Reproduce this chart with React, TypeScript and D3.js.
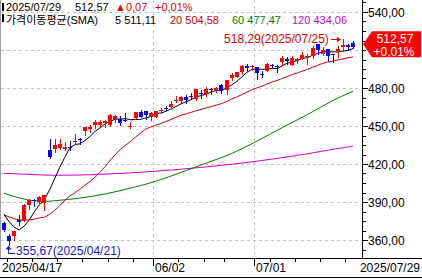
import React from "react";
import * as d3 from "d3";

// ---- data ----
const dates = [
  "04/17","04/21","04/22","04/23","04/24","04/25","04/28","04/29","04/30",
  "05/01","05/02","05/05","05/06","05/07","05/08","05/09","05/12","05/13","05/14","05/15","05/16",
  "05/19","05/20","05/21","05/22","05/23","05/27","05/28","05/29","05/30",
  "06/02","06/03","06/04","06/05","06/06","06/09","06/10","06/11","06/12","06/13",
  "06/16","06/17","06/18","06/20","06/23","06/24","06/25","06/26","06/27","06/30",
  "07/01","07/02","07/03","07/07","07/08","07/09","07/10","07/11","07/14","07/15",
  "07/16","07/17","07/18","07/21","07/22","07/23","07/24","07/25","07/28","07/29",
];
const opens = [
  373.3,362.8,363.4,376.0,375.0,387.9,391.8,390.2,389.0,
  431.1,431.7,432.9,432.2,433.8,437.9,440.0,445.9,447.8,450.8,450.8,452.1,
  450.7,455.6,455.6,454.95,449.98,456.5,461.2,461.6,457.4,
  457.1,461.5,464.0,465.0,470.1,469.7,473.0,473.3,471.0,476.0,
  475.4,478.9,478.1,482.0,478.2,488.0,489.0,493.0,497.6,497.0,
  496.5,491.4,493.8,497.9,497.2,500.3,503.0,498.5,501.5,503.0,
  505.0,505.2,514.5,506.7,510.9,506.7,508.8,512.0,514.0,515.2,
];
const highs = [
  374.4,364.5,367.5,379.4,388.1,392.3,392.1,395.0,395.6,
  439.6,439.4,439.5,437.7,438.1,443.7,440.7,449.4,450.7,454.4,455.0,454.4,
  459.6,458.8,457.8,460.4,453.3,460.9,462.5,461.7,461.0,
  462.1,464.1,465.7,469.7,473.3,473.4,474.4,475.8,478.9,478.6,
  480.7,480.1,481.0,483.5,486.2,491.9,493.0,498.0,499.2,498.0,
  496.5,493.5,500.1,498.8,498.0,505.0,504.4,505.0,503.9,508.3,
  507.0,513.4,515.0,512.1,511.0,506.8,513.0,518.29,515.0,517.0,
];
const lows = [
  366.9,355.67,360.3,371.6,375.0,384.3,386.8,389.0,384.0,
  424.7,429.2,432.1,431.2,431.1,435.4,435.9,442.9,445.4,448.7,448.9,449.6,
  450.3,453.2,451.0,454.0,448.1,456.0,456.9,455.3,455.0,
  456.9,460.0,463.0,464.0,468.8,468.6,468.4,471.1,470.5,472.4,
  474.0,475.6,476.9,476.0,475.0,486.5,488.6,491.4,493.5,494.0,
  487.0,488.3,493.4,495.5,492.5,498.0,498.9,497.8,499.5,502.8,
  499.0,504.0,507.0,506.0,501.0,500.7,504.5,509.5,510.0,511.2,
];
const closes = [
  367.78,359.12,366.82,374.39,387.30,391.85,391.16,394.04,395.26,
  425.40,435.28,436.17,433.31,433.35,438.17,438.73,449.26,449.14,452.94,453.13,454.27,
  458.87,458.17,452.57,454.86,450.18,460.69,457.36,458.68,460.36,
  461.97,462.97,463.87,467.68,470.38,472.75,470.92,472.62,478.87,474.96,
  479.14,478.04,480.24,477.40,486.00,490.11,492.27,497.45,495.94,497.41,
  492.05,491.09,498.84,497.72,496.62,503.51,501.48,503.32,503.02,505.82,
  505.62,511.70,510.05,510.06,505.27,505.87,510.88,513.71,512.50,512.57,
];
const ma5 = [
  380.28,374.41,370.21,367.94,371.08,375.90,382.30,387.75,391.92,
  399.54,408.23,417.23,425.08,432.70,435.26,435.95,438.56,441.73,445.65,448.64,451.75,
  453.67,455.48,455.40,455.75,454.93,455.29,455.13,456.35,457.45,
  459.81,460.27,461.57,463.37,465.37,467.53,469.12,470.87,473.11,474.02,
  475.30,476.73,478.25,477.96,480.16,482.36,485.20,488.65,492.35,494.64,
  495.02,494.79,495.07,495.42,495.26,497.56,499.63,500.53,501.59,503.43,
  503.85,505.90,507.24,508.65,508.54,508.59,508.43,509.16,509.65,511.11,
];
const ma20 = [
  379.86,378.25,376.94,375.90,375.77,375.83,376.45,377.38,378.03,
  380.20,383.31,387.12,390.89,394.83,397.22,400.09,403.13,406.19,409.55,413.63,417.95,
  422.94,427.51,431.42,434.80,437.71,441.19,444.36,447.53,449.27,
  450.61,451.95,453.48,455.19,456.80,458.51,459.59,460.76,462.06,463.15,
  464.39,465.35,466.46,467.70,469.25,471.25,472.83,474.83,476.70,478.55,
  480.05,481.46,483.21,484.71,486.02,487.56,489.09,490.62,491.83,493.37,
  494.70,496.38,497.87,499.50,500.47,501.26,502.19,503.00,503.83,504.59,
];
const ma60Dates = ["04/17","04/21","04/22","04/23","04/24","04/25","04/28","04/29","04/30","05/01","05/02","05/09","05/16","05/23","06/02","06/09","06/16","06/24","07/01","07/09","07/16","07/23","07/29"];
const ma60Values = [397.04,395.58,394.29,393.29,392.29,391.45,391.05,390.70,390.44,390.66,391.02,393.05,396.37,400.91,406.36,413.38,420.74,428.26,437.99,448.72,459.02,470.07,477.47];
const ma120Dates = ["04/17","04/25","05/02","05/09","05/16","05/23","06/02","06/09","06/16","06/24","07/01","07/09","07/16","07/23","07/29"];
const ma120Values = [412.6,411.8,411.1,411.3,412.0,413.0,414.3,415.9,417.7,419.8,422.2,425.0,428.1,431.6,434.06];

const yLabelValues = [540, 480, 450, 420, 390, 360];
const yGridValues = [360, 390, 420, 450, 480, 510, 540];
const monthStarts = ["06/02", "07/01"];
const weekStarts = ["04/21","04/28","05/05","05/12","05/19","05/27","06/09","06/16","06/23","07/07","07/14","07/21","07/28"];
const xLabels = [
  { date: "04/17", text: "2025/04/17" },
  { date: "06/02", text: "06/02" },
  { date: "07/01", text: "07/01" },
  { date: "07/29", text: "2025/07/29" },
];
const legendDate = "2025/07/29";
const legendChange = 0.07;
const legendChangePct = 0.01;
const maLegend = [
  { period: 5, value: 511.11 },
  { period: 20, value: 504.58 },
  { period: 60, value: 477.47 },
  { period: 120, value: 434.06 },
];
const highNote = { date: "07/25", full: "2025/07/25", value: 518.29 };
const lowNote = { date: "04/21", full: "2025/04/21", value: 355.67 };

// ---- styling ----
const W = 422;
const H = 279;
const PLOT_R = 363;
const PLOT_B = 258;
const FONT = "'Liberation Sans', Arial, 'Noto Sans CJK KR', sans-serif";
const UP = "#ff0000";
const DOWN = "#0000ff";
const MA_COLORS = ["#000000", "#d00000", "#008000", "#d000d0"];
const LEGEND_X = [115, 170, 232, 292];

const fmt = (v: number) => d3.format(".2f")(v).replace(".", ",");

export default function App() {
  const x = d3.scaleBand<string>().domain(dates).range([1.47, 355.53]).padding(0);
  const bw = x.bandwidth();
  const cx = (d: string) => (x(d) as number) + bw / 2;
  const y = d3.scaleLinear().domain([360, 540]).range([240, 12]);

  const lineDense = d3
    .line<number>()
    .x((_, i) => cx(dates[i]))
    .y((v) => y(v));
  const lineSparse = (ds: string[], vs: number[]) =>
    d3
      .line<number>()
      .x((_, i) => cx(ds[i]))
      .y((v) => y(v))
      .curve(d3.curveMonotoneX)(vs) as string;

  const minorTicks = d3.range(352.5, 548, 7.5).filter((v) => y(v) > 1 && y(v) < PLOT_B - 1);

  const last = closes.length - 1;
  const tagY = y(closes[last]) - 2.5;

  const hx = cx(highNote.date);
  const hy = y(highNote.value);
  const lx = cx(lowNote.date);
  const ly = y(lowNote.value);

  return (
    <svg width={W} height={H} style={{ display: "block", position: "absolute", left: 0, top: 0 }} fontFamily={FONT}>
      <rect x={0} y={0} width={W} height={H} fill="#ffffff" />

      {/* grid */}
      <g shapeRendering="crispEdges" stroke="#c4c4c4" strokeDasharray="3,3">
        {yGridValues.map((v) => (
          <line key={v} x1={1} x2={PLOT_R} y1={Math.round(y(v)) + 0.5} y2={Math.round(y(v)) + 0.5} />
        ))}
        {monthStarts.map((d) => (
          <line key={d} x1={Math.round(x(d) as number) + 0.5} x2={Math.round(x(d) as number) + 0.5} y1={0} y2={PLOT_B} />
        ))}
      </g>

      {/* moving averages */}
      <g fill="none" strokeWidth={1}>
        <path d={lineSparse(ma120Dates, ma120Values)} stroke={MA_COLORS[3]} />
        <path d={lineSparse(ma60Dates, ma60Values)} stroke={MA_COLORS[2]} />
        <path d={lineDense(ma20) as string} stroke={MA_COLORS[1]} />
        <path d={lineDense(ma5) as string} stroke={MA_COLORS[0]} />
      </g>

      {/* candles */}
      <g shapeRendering="crispEdges">
        {dates.map((d, i) => {
          const o = opens[i];
          const c = closes[i];
          const col = c >= o ? UP : DOWN;
          const left = Math.round(cx(d) - 2);
          const top = Math.round(y(Math.max(o, c)));
          const bot = Math.round(y(Math.min(o, c)));
          const wx = left + 2.5;
          return (
            <g key={d}>
              <line x1={wx} x2={wx} y1={Math.round(y(highs[i]))} y2={Math.round(y(lows[i])) + 1} stroke={col} />
              <rect x={left} y={top} width={4} height={Math.max(1, bot - top)} fill={col} />
            </g>
          );
        })}
      </g>

      {/* high / low notes */}
      <g fontSize={12}>
        <text x={hx - 14} y={hy + 4} textAnchor="end" fill="#e00000">
          {`${fmt(highNote.value)}(${highNote.full})`}
        </text>
        <line x1={hx - 12} x2={hx - 3} y1={Math.round(hy) + 0.5} y2={Math.round(hy) + 0.5} stroke="#e00000" />
        <path d={`M${hx - 2},${Math.round(hy) + 0.5} l-4,-3 l0,6 Z`} fill="#e00000" />

        <path
          d={`M${lx + 6},${Math.round(ly) + 8.5} L${Math.round(lx) - 0.5},${Math.round(ly) + 8.5} L${Math.round(lx) - 0.5},${Math.round(ly) + 2}`}
          stroke="#1818d0"
          fill="none"
        />
        <path d={`M${Math.round(lx) - 0.5},${Math.round(ly) + 0.5} l-3,4 l6,0 Z`} fill="#1818d0" />
        <text x={lx + 7} y={ly + 9.5} fill="#1818d0">
          {`${fmt(lowNote.value)}(${lowNote.full})`}
        </text>
      </g>

      {/* frame & axes */}
      <g shapeRendering="crispEdges" stroke="#000">
        <line x1={0.5} x2={0.5} y1={0} y2={PLOT_B} stroke="#a0a0a0" />
        <line x1={PLOT_R - 0.5} x2={PLOT_R - 0.5} y1={0} y2={PLOT_B} />
        <line x1={0} x2={W} y1={PLOT_B + 0.5} y2={PLOT_B + 0.5} />
        <line x1={0} x2={W} y1={H - 1.5} y2={H - 1.5} />
        {minorTicks.map((v) => (
          <line key={v} x1={PLOT_R} x2={PLOT_R + 3} y1={Math.round(y(v)) + 0.5} y2={Math.round(y(v)) + 0.5} />
        ))}
        {yLabelValues.map((v) => (
          <line key={v} x1={PLOT_R} x2={PLOT_R + 5} y1={Math.round(y(v)) + 0.5} y2={Math.round(y(v)) + 0.5} />
        ))}
        {weekStarts.map((d) => (
          <line key={d} x1={Math.round(x(d) as number) + 0.5} x2={Math.round(x(d) as number) + 0.5} y1={PLOT_B + 1} y2={PLOT_B + 4} />
        ))}
        {monthStarts.map((d) => (
          <line key={d} x1={Math.round(x(d) as number) + 0.5} x2={Math.round(x(d) as number) + 0.5} y1={PLOT_B + 1} y2={PLOT_B + 8} />
        ))}
      </g>

      <g fontSize={12} fill="#000">
        {yLabelValues.map((v) => (
          <text key={v} x={PLOT_R + 5} y={y(v) + 4.5}>
            {fmt(v)}
          </text>
        ))}
        {xLabels.map((l, i) => (
          <text
            key={l.text}
            x={i === 0 ? 2 : i === xLabels.length - 1 ? W - 2 : Math.round(x(l.date) as number) + 2}
            y={PLOT_B + 14}
            textAnchor={i === xLabels.length - 1 ? "end" : "start"}
          >
            {l.text}
          </text>
        ))}
      </g>

      {/* price tag */}
      <path
        d={`M${PLOT_R},${tagY} L${PLOT_R + 9},${tagY - 13} L${W - 1},${tagY - 13} L${W - 1},${tagY + 13} L${PLOT_R + 9},${tagY + 13} Z`}
        fill="#ff0000"
      />
      <g fontSize={12} fill="#ffffff" textAnchor="middle">
        <text x={395} y={tagY - 1.5}>{fmt(closes[last])}</text>
        <text x={394} y={tagY + 11.5}>{`+${fmt(legendChangePct)}%`}</text>
      </g>

      {/* legend */}
      <g fontSize={11}>
        <rect x={2} y={3} width={2} height={8} fill="#000" />
        <rect x={2} y={14} width={2} height={8} fill="#000" />
        <text x={6} y={11} fill="#000">{legendDate}</text>
        <text x={75} y={11} fill="#000">{fmt(closes[last])}</text>
        <text x={115} y={11} fill="#e00000">{`▲${fmt(legendChange)}`}</text>
        <text x={155} y={11} fill="#e00000">{`+${fmt(legendChangePct)}%`}</text>
        <text x={6} y={23.5} fill="#000">
          가격이동평균(SMA)
        </text>
        {maLegend.map((m, i) => (
          <text key={m.period} x={LEGEND_X[i]} y={23.5} fill={MA_COLORS[i]}>
            {`${m.period} ${fmt(m.value)}`}
          </text>
        ))}
      </g>
    </svg>
  );
}
